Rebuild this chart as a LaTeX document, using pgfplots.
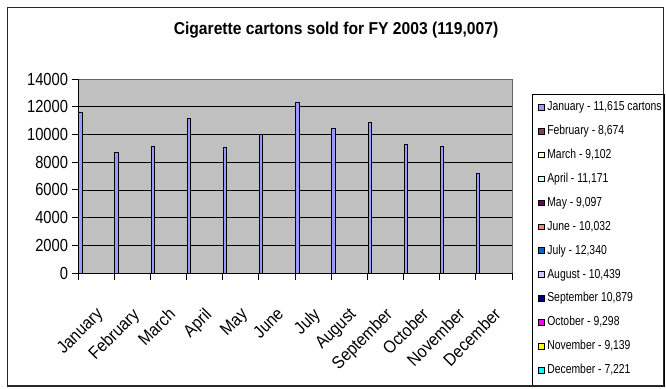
\documentclass[border=0pt]{standalone}
\usepackage{fontspec}
\setmainfont{Liberation Sans}
\newfontfamily\tickfont[FakeStretch=0.84]{Liberation Sans}
\newfontfamily\xfont[FakeStretch=0.9]{Liberation Sans}
\newfontfamily\legfont[FakeStretch=0.8]{Liberation Sans}
\newfontfamily\titlefont[FakeStretch=0.91]{Liberation Sans}
\usepackage{pgfplots}
\pgfplotsset{compat=1.18}
\definecolor{excelgray}{HTML}{C0C0C0}
\definecolor{cjan}{HTML}{9999FF}
\definecolor{cfeb}{HTML}{993366}
\definecolor{cmar}{HTML}{FFFFCC}
\definecolor{capr}{HTML}{CCFFFF}
\definecolor{cmay}{HTML}{660066}
\definecolor{cjun}{HTML}{FF8080}
\definecolor{cjul}{HTML}{0066CC}
\definecolor{caug}{HTML}{CCCCFF}
\definecolor{csep}{HTML}{000080}
\definecolor{coct}{HTML}{FF00FF}
\definecolor{cnov}{HTML}{FFFF00}
\definecolor{cdec}{HTML}{00FFFF}
\newcommand{\tickfs}{\tickfont\fontsize{17.5}{18}\selectfont}
\newcommand{\xfs}{\xfont\fontsize{17.5}{18}\selectfont}
\begin{document}
\begin{tikzpicture}[x=1pt,y=1pt]
\useasboundingbox (0,0) rectangle (666,388);
\fill[white] (0,0) rectangle (666,388);
\begin{axis}[
  at={(78pt,115pt)}, anchor=south west,
  scale only axis, width=434pt, height=194pt,
  xmin=0, xmax=12, ymin=0, ymax=14000,
  axis lines=left,
  axis line style={-, black, line width=0.8pt},
  axis background/.style={fill=excelgray, draw=gray!80!black, line width=0.8pt},
  scaled y ticks=false,
  ytick={0,2000,4000,6000,8000,10000,12000},
  extra y ticks={14000},
  extra y tick style={grid=none},
  ymajorgrids,
  grid style={black, line width=0.6pt},
  xtick={0,1,...,12},
  xticklabels={},
  extra x ticks={0.5,1.5,2.5,3.5,4.5,5.5,6.5,7.5,8.5,9.5,10.5,11.5},
  extra x tick labels={January,February,March,April,May,June,July,August,September,October,November,December},
  extra x tick style={grid=none, tick style={draw=none},
    xticklabel style={font=\xfs, inner sep=0pt, yshift=-27pt, xshift=-1pt, rotate=45, anchor=north east}},
  tick align=outside,
  major tick length=6.5pt,
  tick style={black, line width=0.8pt},
  /pgf/number format/assume math mode=true,
  /pgf/number format/1000 sep={},
  yticklabel style={font=\tickfs},
  title={Cigarette cartons sold for FY 2003 (119,007)},
  title style={at={(0.5945,1.196)}, anchor=base, inner sep=0pt, font=\titlefont\bfseries\fontsize{17.2}{20}\selectfont},
  legend image code/.code={\draw[#1,draw=black,line width=0.8pt] (0pt,-2.8pt) rectangle (5.6pt,2.8pt); \path (8.5pt,0pt);},
  legend style={at={(1.0461,0.9227)}, anchor=north west, draw=none, fill=none,
    inner xsep=6pt, inner ysep=6.6pt, row sep=10.9pt,
    font=\legfont\fontsize{13}{14}\selectfont,
    nodes={inner xsep=0pt, inner ysep=0pt, text height=10pt, text depth=3pt}},
  legend cell align=left,
]
\addplot[ybar, bar width=0.09, fill=cjan, draw=black, line width=0.8pt, forget plot]
  coordinates {(0.065,11615) (1.065,8674) (2.065,9102) (3.065,11171) (4.065,9097) (5.065,10032)
               (6.065,12340) (7.065,10439) (8.065,10879) (9.065,9298) (10.065,9139) (11.065,7221)};
\addlegendimage{fill=cjan}\addlegendentry{January - 11,615 cartons}
\addlegendimage{fill=cfeb}\addlegendentry{February - 8,674}
\addlegendimage{fill=cmar}\addlegendentry{March - 9,102}
\addlegendimage{fill=capr}\addlegendentry{April - 11,171}
\addlegendimage{fill=cmay}\addlegendentry{May - 9,097}
\addlegendimage{fill=cjun}\addlegendentry{June - 10,032}
\addlegendimage{fill=cjul}\addlegendentry{July - 12,340}
\addlegendimage{fill=caug}\addlegendentry{August - 10,439}
\addlegendimage{fill=csep}\addlegendentry{September 10,879}
\addlegendimage{fill=coct}\addlegendentry{October - 9,298}
\addlegendimage{fill=cnov}\addlegendentry{November - 9,139}
\addlegendimage{fill=cdec}\addlegendentry{December - 7,221}
\end{axis}
\draw[black, line width=0.8pt] (532,2) rectangle (664,294);
\draw[line width=1.6pt, black!85] (7.5,2) rectangle (663.5,380.5);
\end{tikzpicture}
\end{document}
